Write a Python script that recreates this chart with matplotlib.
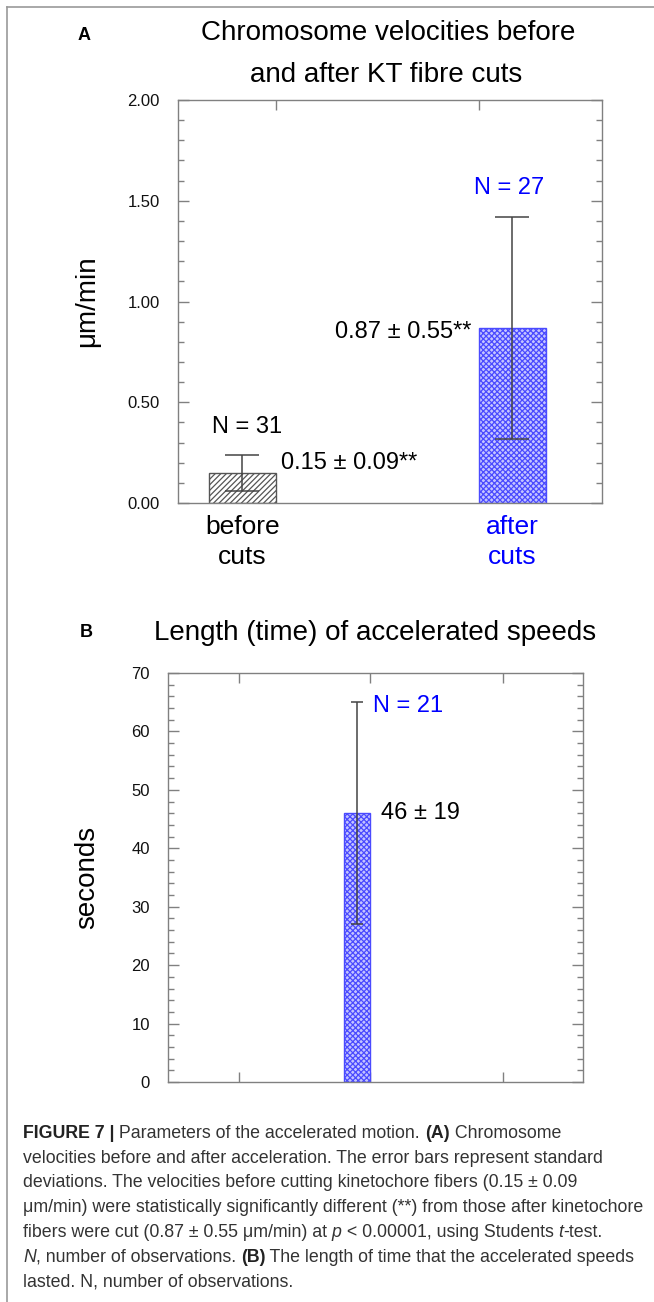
import matplotlib
matplotlib.use("Agg")
import matplotlib.pyplot as plt
from matplotlib.ticker import MultipleLocator, FormatStrFormatter, FixedLocator
from matplotlib.lines import Line2D

plt.rcParams['font.family'] = ['Liberation Sans', 'DejaVu Sans']
plt.rcParams['hatch.linewidth'] = 0.9

# ---------------- data ----------------
cat_a = ["before\ncuts", "after\ncuts"]
mean_a = [0.15, 0.87]
sd_a = [0.09, 0.55]
n_a = [31, 27]
label_a = ["0.15 ± 0.09**", "0.87 ± 0.55**"]
yticks_a = [0.0, 0.5, 1.0, 1.5, 2.0]

mean_b = [46]
sd_b = [19]
n_b = [21]
label_b = ["46 ± 19"]
yticks_b = [0, 10, 20, 30, 40, 50, 60, 70]

W, H = 654, 1302
fig = plt.figure(figsize=(W / 100, H / 100), dpi=100)


def fx(px):
    return px / W


def fy(py):
    return 1 - py / H


def ax_rect(l, r, t, b):
    return [fx(l), fy(b), fx(r) - fx(l), fy(t) - fy(b)]


GRAY = '#808080'
BLUE = '#0000ff'


def style_axes(ax):
    for s in ax.spines.values():
        s.set_color(GRAY)
        s.set_linewidth(1.0)
    ax.tick_params(axis='y', which='both', direction='in', left=True, right=True,
                   color=GRAY, labelsize=12, pad=13, labelcolor='#111111')
    ax.tick_params(axis='y', which='major', length=8, width=1.0)
    ax.tick_params(axis='y', which='minor', length=4.5, width=1.0)


# ---------------- Panel A ----------------
axA = fig.add_axes(ax_rect(178, 602, 100, 503))
pos_a = [0.152, 0.788]
wid_a = 0.158
axA.bar(pos_a[0], mean_a[0], width=wid_a, facecolor='white', edgecolor='#555555',
        hatch='//////', linewidth=1.0, zorder=2)
axA.bar(pos_a[1], mean_a[1], width=wid_a, facecolor='#c4c4ff', edgecolor='#4a4aff',
        hatch='xxxxxx', linewidth=1.0, zorder=2)
axA.errorbar(pos_a, mean_a, yerr=sd_a, fmt='none', ecolor='#444444', elinewidth=1.1,
             capsize=12, capthick=1.1, zorder=3)
axA.set_xlim(0, 1)
axA.set_ylim(0, 2.0)
axA.yaxis.set_major_locator(FixedLocator(yticks_a))
axA.yaxis.set_minor_locator(MultipleLocator(0.1))
axA.yaxis.set_major_formatter(FormatStrFormatter('%.2f'))
style_axes(axA)
axA.set_xticks(pos_a)
axA.set_xticklabels(cat_a, fontsize=19, linespacing=1.3)
for lab, c in zip(axA.get_xticklabels(), ['#000000', BLUE]):
    lab.set_color(c)
axA.tick_params(axis='x', which='both', bottom=False, top=False, pad=5)
# top ticks at inner bar edges
secA = axA.secondary_xaxis('top')
secA.set_xticks([pos_a[0] + wid_a / 2, pos_a[1] - wid_a / 2])
secA.set_xticklabels([])
secA.tick_params(direction='in', length=7, color=GRAY, width=1.0)
secA.spines['top'].set_visible(False)
axA.set_ylabel("μm/min", fontsize=20, va='center')
axA.yaxis.set_label_coords(-0.2146, 0.5)

axA.annotate(f"N = {n_a[0]}", xy=(pos_a[0], mean_a[0] + sd_a[0]), xytext=(3.6, 20),
             textcoords='offset points', ha='center', va='center', fontsize=17)
axA.annotate(f"N = {n_a[1]}", xy=(pos_a[1], mean_a[1] + sd_a[1]), xytext=(-2.5, 21),
             textcoords='offset points', ha='center', va='center', fontsize=17, color=BLUE)
axA.annotate(label_a[0], xy=(pos_a[0] + wid_a / 2, mean_a[0]), xytext=(4, 7),
             textcoords='offset points', ha='left', va='center', fontsize=17)
axA.annotate(label_a[1], xy=(pos_a[1] - wid_a / 2, mean_a[1]), xytext=(-5, -3),
             textcoords='offset points', ha='right', va='center', fontsize=17)

# ---------------- Panel B ----------------
axB = fig.add_axes(ax_rect(168, 583, 673, 1082))
pos_b = [0.4547]
wid_b = 0.063
axB.bar(pos_b, mean_b, width=wid_b, facecolor='#c4c4ff', edgecolor='#4a4aff',
        hatch='xxxxxx', linewidth=1.0, zorder=2)
axB.errorbar(pos_b, mean_b, yerr=sd_b, fmt='none', ecolor='#444444', elinewidth=1.1,
             capsize=4.5, capthick=1.1, zorder=3)
axB.set_xlim(0, 1)
axB.set_ylim(0, 70)
axB.yaxis.set_major_locator(FixedLocator(yticks_b))
axB.yaxis.set_minor_locator(MultipleLocator(2))
style_axes(axB)
axB.set_xticks([0.171, 0.487, 0.807])
axB.set_xticklabels([])
axB.tick_params(axis='x', which='both', direction='in', bottom=True, top=True,
                length=7, color=GRAY, width=1.0)
axB.set_ylabel("seconds", fontsize=20, va='center')
axB.yaxis.set_label_coords(-0.195, 0.5)
axB.annotate(f"N = {n_b[0]}", xy=(pos_b[0], mean_b[0] + sd_b[0]), xytext=(11.7, -3),
             textcoords='offset points', ha='left', va='center', fontsize=17, color=BLUE)
axB.annotate(label_b[0], xy=(pos_b[0] + wid_b / 2, mean_b[0]), xytext=(8, 0),
             textcoords='offset points', ha='left', va='center', fontsize=17)

# ---------------- titles & panel letters ----------------
fig.text(fx(388), fy(33), "Chromosome velocities before", ha='center', va='center', fontsize=20)
fig.text(fx(386), fy(75), "and after KT fibre cuts", ha='center', va='center', fontsize=20)
fig.text(fx(84), fy(35), "A", ha='center', va='center', fontsize=13, fontweight='bold')
fig.text(fx(375), fy(633), "Length (time) of accelerated speeds", ha='center', va='center', fontsize=20)
fig.text(fx(86), fy(633), "B", ha='center', va='center', fontsize=13, fontweight='bold')

# ---------------- frame lines ----------------
fig.add_artist(Line2D([fx(7), fx(7)], [fy(7), fy(1302)], transform=fig.transFigure,
                      color='#9a9a9a', lw=1.2))
fig.add_artist(Line2D([fx(7), fx(654)], [fy(7), fy(7)], transform=fig.transFigure,
                      color='#9a9a9a', lw=1.2))

# ---------------- caption ----------------
caption = [
    [("FIGURE 7 |", 'b'), (" Parameters of the accelerated motion. ", 'n'), ("(A)", 'b'), (" Chromosome", 'n')],
    [("velocities before and after acceleration. The error bars represent standard", 'n')],
    [("deviations. The velocities before cutting kinetochore fibers (0.15 ± 0.09", 'n')],
    [("μm/min) were statistically significantly different (**) from those after kinetochore", 'n')],
    [("fibers were cut (0.87 ± 0.55 μm/min) at ", 'n'), ("p", 'i'), (" < 0.00001, using Students ", 'n'), ("t", 'i'), ("-test.", 'n')],
    [("N", 'i'), (", number of observations. ", 'n'), ("(B)", 'b'), (" The length of time that the accelerated speeds", 'n')],
    [("lasted. N, number of observations.", 'n')],
]

renderer = fig.canvas.get_renderer()


def run_props(st, fs):
    d = dict(fontsize=fs, color='#333333')
    if st == 'b':
        d.update(fontweight='bold', color='#222222')
    elif st == 'i':
        d.update(fontstyle='italic')
    return d


def line_width(runs, fs):
    total = 0
    for txt, st in runs:
        t = fig.text(0, 0, txt, **run_props(st, fs))
        total += t.get_window_extent(renderer).width
        t.remove()
    return total


base_fs = 12
target = 647 - 23
scale = target / line_width(caption[3], base_fs)
cap_fs = base_fs * scale

x0 = 23
for i, runs in enumerate(caption):
    yb = 1138 + i * 24.7
    x = x0
    for txt, st in runs:
        t = fig.text(fx(x), fy(yb), txt, ha='left', va='baseline', **run_props(st, cap_fs))
        x += t.get_window_extent(renderer).width

fig.savefig("out.png", dpi=100)
